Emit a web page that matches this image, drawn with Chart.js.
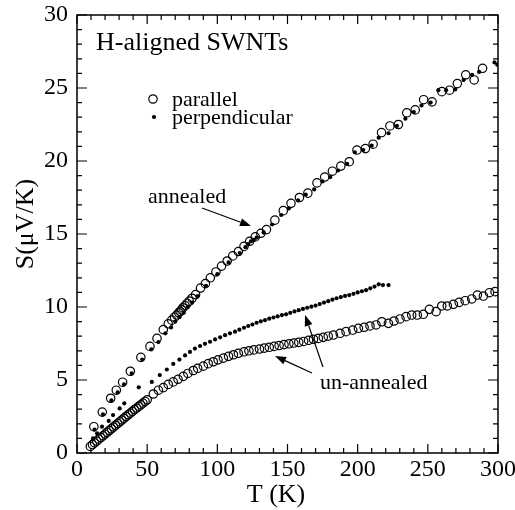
<!DOCTYPE html>
<html>
<head>
<meta charset="utf-8">
<script src="https://cdn.jsdelivr.net/npm/chart.js@4.4.1/dist/chart.umd.min.js"></script>
<style>
  html, body { margin: 0; padding: 0; background: #fff; }
</style>
</head>
<body>
<canvas id="seebeck-chart" width="515" height="510"></canvas>
<script>
// annealed, parallel (open circles)
const annParT = [12, 18, 24, 28, 32.5, 38, 45.5, 52, 57, 61.5, 65, 67.5, 69.5, 71, 72.5, 73.5, 74.5, 75.5, 77, 78.5, 80, 82, 84.5, 88, 91.5, 95, 99, 103, 107, 111, 115, 119, 123, 127, 131, 135, 141, 147, 152.5, 158.5, 164.5, 171, 176.5, 182, 188, 194, 199.5, 205.5, 211, 217, 223, 229, 235, 241, 247, 253, 260, 265.5, 271, 277, 283, 289];
const annParS = [1.8, 2.8, 3.75, 4.3, 4.85, 5.6, 6.55, 7.3, 7.85, 8.45, 8.85, 9.1, 9.3, 9.45, 9.6, 9.7, 9.8, 9.95, 10.1, 10.25, 10.4, 10.6, 10.85, 11.3, 11.6, 12.0, 12.4, 12.8, 13.15, 13.5, 13.8, 14.15, 14.5, 14.8, 15.05, 15.3, 15.95, 16.6, 17.1, 17.5, 17.8, 18.5, 18.9, 19.3, 19.65, 19.95, 20.75, 20.85, 21.15, 21.95, 22.4, 22.5, 23.3, 23.5, 24.2, 24.05, 24.75, 24.85, 25.3, 25.9, 25.55, 26.35];

// annealed, perpendicular (dots)
const annPerpT = [12.5, 18.5, 24.5, 29, 33.5, 39, 46.5, 53, 58, 63, 67, 70, 73, 76, 79, 82, 86, 92, 100, 108, 116, 120, 122, 124, 126, 128, 133, 139, 145.5, 151, 157.5, 163, 169, 175, 180.5, 186, 192.5, 198, 204, 210, 215, 222, 228, 234, 240, 245.5, 252, 257.5, 263, 269.5, 275.5, 281.5, 286.5, 297.5, 299.5];
const annPerpS = [1.6, 2.65, 3.6, 4.15, 4.7, 5.45, 6.4, 7.1, 7.6, 8.2, 8.6, 9.0, 9.3, 9.6, 10.0, 10.3, 10.75, 11.45, 12.25, 13.05, 13.7, 14.1, 14.3, 14.5, 14.6, 14.75, 15.1, 15.65, 16.3, 16.75, 17.3, 17.7, 18.05, 18.6, 18.9, 19.35, 19.8, 20.6, 20.75, 21.05, 21.6, 21.9, 22.4, 22.9, 23.35, 23.8, 24.0, 24.85, 24.85, 24.9, 25.55, 25.9, 26.1, 26.75, 26.6];

// un-annealed, perpendicular (dots)
const unPerpT = [11.4, 14.3, 17.8, 22.6, 25.7, 30.4, 33.7, 44, 53.3, 59, 64, 68.6, 73, 77, 80.5, 84, 87.7, 91.2, 94.8, 98.4, 102, 105.5, 109, 112.6, 115.7, 119, 122, 125, 128, 131, 134, 137, 140, 143, 146, 149, 152, 155, 158, 161, 164, 167, 170, 173, 176, 179, 182, 185, 188, 191, 194, 197, 200, 203, 206, 209, 212, 215, 218, 222];
const unPerpS = [1.0, 1.35, 1.8, 2.2, 2.6, 3.05, 3.4, 4.5, 4.87, 5.34, 5.72, 6.1, 6.4, 6.68, 6.92, 7.15, 7.33, 7.48, 7.62, 7.78, 7.92, 8.07, 8.2, 8.31, 8.45, 8.58, 8.7, 8.8, 8.92, 9.02, 9.1, 9.2, 9.28, 9.36, 9.45, 9.5, 9.6, 9.7, 9.78, 9.87, 9.95, 10.02, 10.1, 10.2, 10.3, 10.4, 10.5, 10.6, 10.68, 10.76, 10.82, 10.9, 11.0, 11.08, 11.15, 11.28, 11.4, 11.55, 11.5, 11.5];

// un-annealed, parallel (open circles)
const unParT = [9.5, 11, 12.5, 14, 15.5, 17, 18.5, 20, 21.5, 23, 24.5, 26, 27.5, 29, 30.5, 32, 33.5, 35, 36.5, 38, 39.5, 41, 42.5, 44, 45.5, 47, 48.5, 50, 54.4, 58, 61.5, 65, 68.6, 72, 75.8, 79, 82.9, 86, 90, 93.5, 97.1, 100.5, 104.3, 108, 111.5, 115, 119, 122.5, 126, 130, 133.5, 137, 140.5, 144, 147.5, 151, 154.5, 158, 161.5, 165, 168.5, 172, 175.5, 179, 182.7, 187.5, 191.7, 196.5, 200.5, 204.6, 208.8, 213.1, 217.2, 221.9, 225.9, 230.2, 234.5, 238.5, 242.5, 246.8, 251.1, 255.9, 259.9, 263.9, 268.2, 272.3, 276.6, 281.3, 285.3, 289.6, 293.9, 297.9];
const unParS = [0.45, 0.58, 0.7, 0.82, 0.95, 1.06, 1.18, 1.3, 1.42, 1.54, 1.66, 1.78, 1.9, 2.02, 2.14, 2.26, 2.38, 2.5, 2.62, 2.73, 2.85, 2.97, 3.08, 3.2, 3.3, 3.42, 3.53, 3.64, 4.04, 4.3, 4.48, 4.7, 4.87, 5.05, 5.25, 5.45, 5.65, 5.8, 5.95, 6.12, 6.25, 6.38, 6.5, 6.62, 6.73, 6.83, 6.93, 7.0, 7.06, 7.12, 7.18, 7.24, 7.3, 7.36, 7.42, 7.48, 7.53, 7.58, 7.64, 7.72, 7.79, 7.85, 7.92, 8.0, 8.08, 8.2, 8.31, 8.42, 8.54, 8.61, 8.7, 8.77, 8.99, 8.88, 9.04, 9.18, 9.34, 9.45, 9.45, 9.5, 9.84, 9.68, 10.07, 10.07, 10.18, 10.32, 10.43, 10.55, 10.82, 10.75, 10.98, 11.05];

const xTickLabels = [0, 50, 100, 150, 200, 250, 300];
const yTickLabels = [0, 5, 10, 15, 20, 25, 30];

const SERIF = '"Liberation Serif", "DejaVu Serif", serif';

const pts = (xs, ys) => xs.map((x, i) => ({ x, y: ys[i] }));

const openCircle = {
  pointStyle: 'circle',
  pointRadius: 4.2,
  pointBorderWidth: 1.2,
  pointBackgroundColor: 'rgba(0,0,0,0)',
  pointBorderColor: '#000',
  showLine: false
};
const dot = {
  pointStyle: 'circle',
  pointRadius: 2.1,
  pointBorderWidth: 0,
  pointBackgroundColor: '#000',
  pointBorderColor: '#000',
  showLine: false
};

function arrow(ctx, x1, y1, x2, y2) {
  const ang = Math.atan2(y2 - y1, x2 - x1);
  const len = 11, half = 4;
  const bx = x2 - len * Math.cos(ang), by = y2 - len * Math.sin(ang);
  ctx.beginPath();
  ctx.moveTo(x1, y1);
  ctx.lineTo(bx, by);
  ctx.stroke();
  ctx.beginPath();
  ctx.moveTo(x2, y2);
  ctx.lineTo(bx + half * Math.sin(ang), by - half * Math.cos(ang));
  ctx.lineTo(bx - half * Math.sin(ang), by + half * Math.cos(ang));
  ctx.closePath();
  ctx.fill();
}

// frame with inward ticks on all four sides, tick labels, titles and notes
const decorations = {
  id: 'decorations',
  afterDraw(chart) {
    const { ctx, chartArea: a, scales: { x, y } } = chart;
    ctx.save();
    ctx.strokeStyle = '#000';
    ctx.fillStyle = '#000';
    ctx.lineWidth = 1.5;
    ctx.strokeRect(a.left, a.top, a.right - a.left, a.bottom - a.top);

    ctx.lineWidth = 1.2;
    ctx.beginPath();
    for (let t = 0; t <= 300; t += 10) {
      const px = x.getPixelForValue(t);
      const len = t % 50 === 0 ? 9 : 5;
      ctx.moveTo(px, a.bottom); ctx.lineTo(px, a.bottom - len);
      ctx.moveTo(px, a.top); ctx.lineTo(px, a.top + len);
    }
    for (let s = 0; s <= 30; s += 1) {
      const py = y.getPixelForValue(s);
      const len = s % 5 === 0 ? 10 : 5;
      ctx.moveTo(a.left, py); ctx.lineTo(a.left + len, py);
      ctx.moveTo(a.right, py); ctx.lineTo(a.right - len, py);
    }
    ctx.stroke();

    ctx.font = '24px ' + SERIF;
    ctx.textAlign = 'center';
    ctx.textBaseline = 'middle';
    xTickLabels.forEach(v => ctx.fillText(String(v), x.getPixelForValue(v), a.bottom + 17));
    ctx.textAlign = 'right';
    yTickLabels.forEach(v => ctx.fillText(String(v), a.left - 9, y.getPixelForValue(v)));

    // axis titles
    ctx.font = '26px ' + SERIF;
    ctx.textAlign = 'center';
    ctx.textBaseline = 'alphabetic';
    ctx.fillText('T (K)', 276, 502);
    ctx.save();
    ctx.translate(33, 224);
    ctx.rotate(-Math.PI / 2);
    ctx.fillText('S(\u03bcV/K)', 0, 0);
    ctx.restore();

    // title and legend
    ctx.textAlign = 'left';
    ctx.font = '26px ' + SERIF;
    ctx.fillText('H-aligned SWNTs', 96, 50);
    ctx.font = '22px ' + SERIF;
    ctx.fillText('parallel', 172, 106);
    ctx.fillText('perpendicular', 172, 124);
    ctx.lineWidth = 1.2;
    ctx.beginPath();
    ctx.arc(153, 99, 4.2, 0, Math.PI * 2);
    ctx.stroke();
    ctx.beginPath();
    ctx.arc(154, 117, 2.1, 0, Math.PI * 2);
    ctx.fill();

    // annotations
    ctx.font = '22px ' + SERIF;
    ctx.fillText('annealed', 148, 203);
    ctx.fillText('un-annealed', 320, 389);
    ctx.lineWidth = 1.2;
    arrow(ctx, 202, 208, 251, 226);
    arrow(ctx, 323, 367, 305, 315);
    arrow(ctx, 312, 373, 275, 356);
    ctx.restore();
  }
};

new Chart(document.getElementById('seebeck-chart'), {
  type: 'scatter',
  data: {
    datasets: [
      { label: 'annealed parallel', data: pts(annParT, annParS), ...openCircle },
      { label: 'annealed perpendicular', data: pts(annPerpT, annPerpS), ...dot },
      { label: 'un-annealed perpendicular', data: pts(unPerpT, unPerpS), ...dot },
      { label: 'un-annealed parallel', data: pts(unParT, unParS), ...openCircle }
    ]
  },
  options: {
    responsive: false,
    animation: false,
    layout: { padding: { left: 77, right: 17, top: 15, bottom: 57 } },
    plugins: {
      legend: { display: false },
      tooltip: { enabled: false }
    },
    scales: {
      x: { type: 'linear', min: 0, max: 300, display: false },
      y: { type: 'linear', min: 0, max: 30, display: false }
    }
  },
  plugins: [decorations]
});
</script>
</body>
</html>
